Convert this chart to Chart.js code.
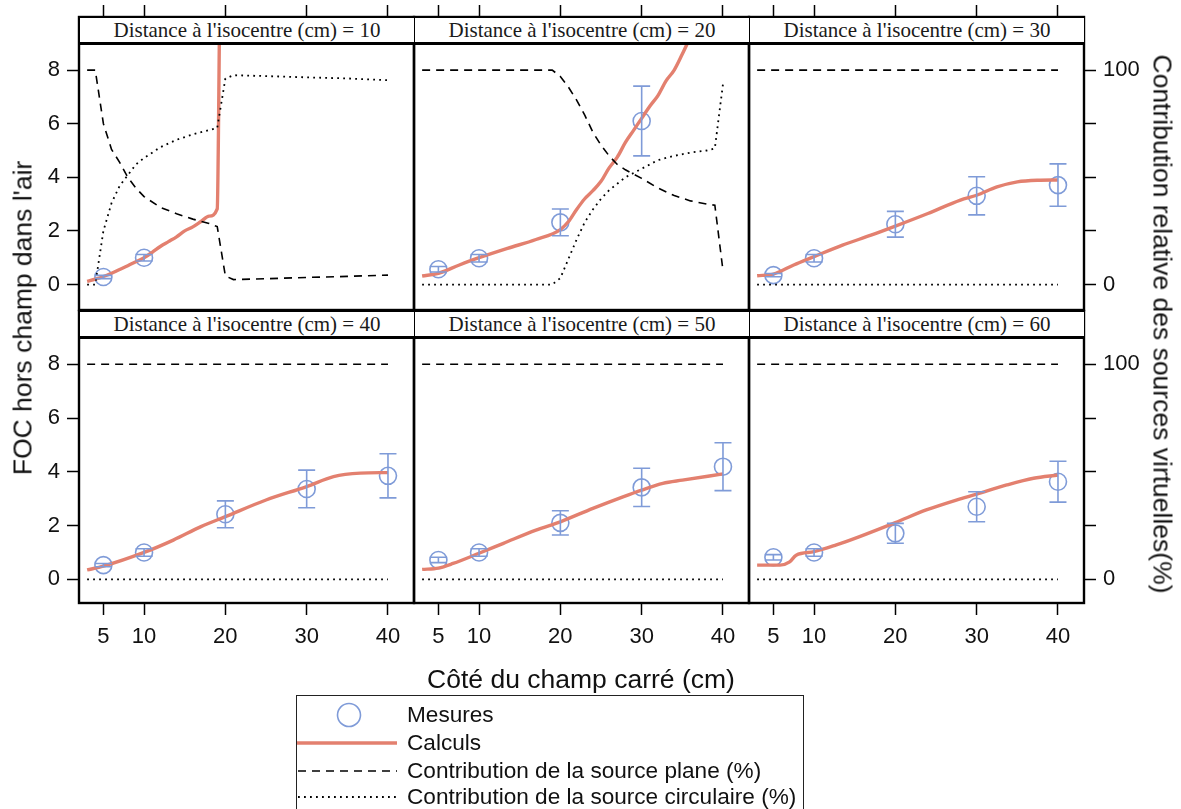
<!DOCTYPE html>
<html>
<head>
<meta charset="utf-8">
<script src="https://cdn.jsdelivr.net/npm/chart.js@4.4.1/dist/chart.umd.min.js"></script>
<style>
  html, body { margin:0; padding:0; background:#fff; }
  #wrap { position:relative; width:1181px; height:809px; overflow:hidden; background:#fff; }
  canvas.panel { position:absolute; left:0; top:0; width:1181px; height:809px; pointer-events:none; }
  .strip { position:absolute; box-sizing:border-box; background:#fff; border:1.5px solid #000; border-bottom:3px solid #000;
           font-family:'Liberation Serif','Times New Roman',serif; font-size:21px; color:#1a1a1a; text-align:center; line-height:24px; z-index:5; white-space:nowrap; }
  .title { position:absolute; font-family:'Liberation Sans',Arial,sans-serif; font-size:26.5px; color:#111; white-space:nowrap; z-index:6; }
  #legend { position:absolute; left:296px; top:695px; width:508px; height:130px; box-sizing:border-box; border:1.5px solid #222; background:#fff; z-index:6; }
  #legend .lab { position:absolute; left:110px; font-family:'Liberation Sans',Arial,sans-serif; font-size:22.6px; color:#111; line-height:26px; white-space:nowrap; }
  #legend svg { position:absolute; left:0; top:0; }
</style>
</head>
<body>
<div id="wrap">
  <canvas class="panel" id="c0" width="1181" height="809"></canvas>
  <canvas class="panel" id="c1" width="1181" height="809"></canvas>
  <canvas class="panel" id="c2" width="1181" height="809"></canvas>
  <canvas class="panel" id="c3" width="1181" height="809"></canvas>
  <canvas class="panel" id="c4" width="1181" height="809"></canvas>
  <canvas class="panel" id="c5" width="1181" height="809"></canvas>
  <div id="strips"></div>
  <div class="title" id="xTitle"></div>
  <div class="title" id="yTitle"></div>
  <div class="title" id="y2Title"></div>
  <div id="legend"></div>
</div>
<script>
// ---------------- DATA ----------------
const distances = [10, 20, 30, 40, 50, 60];
const stripPrefix = "Distance à l'isocentre (cm) = ";
const xTicks = [5, 10, 20, 30, 40];
const yTicks = [0, 2, 4, 6, 8];
const pctTicks = [0, 25, 50, 75, 100];
const pctTickLabels = ['0', '', '', '', '100'];
const xTitleText = 'Côté du champ carré (cm)';
const yTitleText = "FOC hors champ dans l'air";
const y2TitleText = 'Contribution relative des sources virtuelles(%)';
const legendLabels = ['Mesures', 'Calculs', 'Contribution de la source plane (%)', 'Contribution de la source circulaire (%)'];

// Measurements (x, value, half error bar)
const mesX_10 = [5, 10];
const mesY_10 = [0.28, 1.0];
const mesE_10 = [0.06, 0.12];
const mesX_20 = [5, 10, 20, 30];
const mesY_20 = [0.57, 0.98, 2.32, 6.1];
const mesE_20 = [0.1, 0.14, 0.5, 1.3];
const mesX_30 = [5, 10, 20, 30, 40];
const mesY_30 = [0.35, 0.98, 2.25, 3.31, 3.71];
const mesE_30 = [0.06, 0.14, 0.48, 0.71, 0.79];
const mesX_40 = [5, 10, 20, 30, 40];
const mesY_40 = [0.53, 1.0, 2.42, 3.36, 3.85];
const mesE_40 = [0.06, 0.14, 0.5, 0.7, 0.82];
const mesX_50 = [5, 10, 20, 30, 40];
const mesY_50 = [0.72, 1.0, 2.1, 3.42, 4.19];
const mesE_50 = [0.1, 0.14, 0.45, 0.71, 0.89];
const mesX_60 = [5, 10, 20, 30, 40];
const mesY_60 = [0.82, 1.0, 1.71, 2.7, 3.63];
const mesE_60 = [0.1, 0.14, 0.37, 0.56, 0.76];

// Calculations
const calcX_10 = [3, 4, 5, 6, 7, 8, 9, 10, 11, 12, 13, 14, 15, 16, 17, 18, 19, 19.3];
const calcY_10 = [0.12, 0.2, 0.3, 0.42, 0.56, 0.7, 0.85, 1.0, 1.2, 1.42, 1.6, 1.78, 2.0, 2.15, 2.35, 2.55, 2.82, 10.2];
const calcX_20 = [3, 5, 7.5, 10, 13.5, 17, 20, 21, 22, 23, 24, 25, 26, 27, 28, 29, 30, 31, 32, 33, 34, 35, 36, 37, 38];
const calcY_20 = [0.32, 0.42, 0.72, 1.0, 1.35, 1.68, 2.05, 2.35, 2.8, 3.2, 3.5, 3.85, 4.35, 4.75, 5.3, 5.75, 6.2, 6.65, 7.05, 7.6, 8.0, 8.6, 9.25, 9.9, 10.6];
const calcX_30 = [3, 5, 7.5, 10, 13.5, 17, 20, 24, 28, 30, 32.5, 35, 37.5, 40];
const calcY_30 = [0.33, 0.39, 0.73, 1.04, 1.47, 1.84, 2.18, 2.65, 3.15, 3.33, 3.64, 3.83, 3.89, 3.9];
const calcX_40 = [3, 5, 10, 13.6, 17, 20, 25, 30, 33.3, 36.6, 40];
const calcY_40 = [0.35, 0.49, 1.0, 1.46, 1.96, 2.33, 2.95, 3.45, 3.82, 3.95, 3.97];
const calcX_50 = [3, 5, 6.8, 10, 13, 17, 20, 24, 27.7, 30, 32.6, 35, 40];
const calcY_50 = [0.37, 0.42, 0.59, 0.97, 1.34, 1.83, 2.14, 2.64, 3.07, 3.32, 3.57, 3.69, 3.92];
const calcX_60 = [3, 5.8, 7, 7.8, 10, 12.75, 15.6, 20, 23.8, 27.5, 30, 33.7, 37, 40];
const calcY_60 = [0.53, 0.53, 0.65, 0.9, 1.03, 1.28, 1.59, 2.11, 2.58, 2.95, 3.17, 3.51, 3.76, 3.88];

// Source contributions (%)
const srcX_10 = [3, 4, 5, 6, 7, 8, 9, 10, 12, 14, 16, 18, 19, 20, 21, 25, 30, 35, 40];
const plane_10 = [100, 100, 75, 63, 57, 50, 45, 41, 36, 33, 30.5, 28.5, 27, 4, 2.3, 2.7, 3.3, 3.8, 4.4];
const circ_10 = [0, 0, 25, 38, 46, 51, 56, 59, 64, 67.5, 70, 72, 73, 96, 97.6, 97.2, 96.6, 96.1, 95.3];
const srcX_20 = [3, 19, 20, 21, 22, 23, 24, 25, 26, 27, 28, 29, 30, 32, 34, 36, 38, 39, 40];
const plane_20 = [100, 100, 97, 92, 86, 79, 71, 65, 60, 56, 53.5, 51.5, 49.5, 45, 41.5, 39, 37.5, 37, 6.5];
const circ_20 = [0, 0, 3, 12, 21, 29, 35, 40, 44, 47, 50, 52, 54, 58, 60, 61.5, 62.5, 63.5, 93.5];
const srcX_30 = [3, 40];
const plane_30 = [100, 100];
const circ_30 = [0, 0];
const srcX_40 = [3, 40];
const plane_40 = [100, 100];
const circ_40 = [0, 0];
const srcX_50 = [3, 40];
const plane_50 = [100, 100];
const circ_50 = [0, 0];
const srcX_60 = [3, 40];
const plane_60 = [100, 100];
const circ_60 = [0, 0];

// ---------------- LAYOUT / STYLE ----------------
const W = 1181, H = 809;
const colL = [79, 414, 749], colR = [414, 749, 1084];
const rowT = [17, 311], rowB = [310, 603];
const stripH = 27;
const X_MIN = 2.0, X_MAX = 43.2;
const Y_MIN = [-0.95, -0.88], Y_MAX = [9.98, 9.98];
const PCT_PER_UNIT = 12.5;
const WL = 50, WR = 60, HB = 60, HT = 12;
const RED = '#e3806f', BLUE = '#7f9bd8';
const FONT = { family: "'Liberation Sans', Arial, sans-serif", size: 22 };

const panelData = [
  { mx: mesX_10, my: mesY_10, me: mesE_10, cx: calcX_10, cy: calcY_10, sx: srcX_10, sp: plane_10, sc: circ_10 },
  { mx: mesX_20, my: mesY_20, me: mesE_20, cx: calcX_20, cy: calcY_20, sx: srcX_20, sp: plane_20, sc: circ_20 },
  { mx: mesX_30, my: mesY_30, me: mesE_30, cx: calcX_30, cy: calcY_30, sx: srcX_30, sp: plane_30, sc: circ_30 },
  { mx: mesX_40, my: mesY_40, me: mesE_40, cx: calcX_40, cy: calcY_40, sx: srcX_40, sp: plane_40, sc: circ_40 },
  { mx: mesX_50, my: mesY_50, me: mesE_50, cx: calcX_50, cy: calcY_50, sx: srcX_50, sp: plane_50, sc: circ_50 },
  { mx: mesX_60, my: mesY_60, me: mesE_60, cx: calcX_60, cy: calcY_60, sx: srcX_60, sp: plane_60, sc: circ_60 }
];

const pts = (xs, ys) => xs.map((x, k) => ({ x: x, y: ys[k] }));
const zeroPad = s => { s.paddingLeft = 0; s.paddingRight = 0; s.paddingTop = 0; s.paddingBottom = 0; };

const framePlugin = {
  id: 'frame',
  afterDraw(chart) {
    const a = chart.chartArea, c = chart.ctx;
    c.save(); c.lineWidth = 2.4; c.strokeStyle = '#000';
    c.strokeRect(a.left, a.top, a.right - a.left, a.bottom - a.top);
    c.restore();
  }
};
const errorBarPlugin = {
  id: 'errorBars',
  afterDatasetsDraw(chart) {
    const c = chart.ctx, a = chart.chartArea;
    chart.data.datasets.forEach((ds, i) => {
      if (!ds.errors) return;
      const meta = chart.getDatasetMeta(i);
      const ys = chart.scales[meta.yAxisID];
      c.save();
      c.beginPath(); c.rect(a.left, a.top, a.right - a.left, a.bottom - a.top); c.clip();
      c.strokeStyle = ds.borderColor; c.lineWidth = 1.6;
      c.beginPath();
      meta.data.forEach((el, j) => {
        const v = ds.data[j].y, e = ds.errors[j];
        const y1 = ys.getPixelForValue(v + e), y2 = ys.getPixelForValue(v - e), x = el.x;
        c.moveTo(x, y1); c.lineTo(x, y2);
        c.moveTo(x - 8.5, y1); c.lineTo(x + 8.5, y1);
        c.moveTo(x - 8.5, y2); c.lineTo(x + 8.5, y2);
      });
      c.stroke(); c.restore();
    });
  }
};

const gridOpts = { display: true, drawOnChartArea: false, drawTicks: true, tickLength: 12, tickWidth: 1.5, tickColor: '#000', color: '#000' };

distances.forEach((d, i) => {
  const row = Math.floor(i / 3), col = i % 3;
  const p = panelData[i];
  const padding = {
    left: colL[col] - (col === 0 ? WL : 0),
    right: W - colR[col] - (col === 2 ? WR : 0),
    top: rowT[row] - (row === 0 ? HT : 0),
    bottom: H - rowB[row] - (row === 1 ? HB : 0)
  };
  new Chart(document.getElementById('c' + i), {
    type: 'scatter',
    data: {
      datasets: [
        { label: legendLabels[2], data: pts(p.sx, p.sp), yAxisID: 'y2', showLine: true, borderColor: '#000', borderWidth: 1.6,
          borderDash: [8, 6], pointRadius: 0, tension: 0, fill: false },
        { label: legendLabels[3], data: pts(p.sx, p.sc), yAxisID: 'y2', showLine: true, borderColor: '#000', borderWidth: 1.8,
          borderDash: [1.8, 4.2], pointRadius: 0, tension: 0, fill: false },
        { label: legendLabels[1], data: pts(p.cx, p.cy), yAxisID: 'y', showLine: true, borderColor: RED, borderWidth: 3.4,
          pointRadius: 0, tension: 0.3, cubicInterpolationMode: 'monotone', fill: false },
        { label: legendLabels[0], data: pts(p.mx, p.my), errors: p.me, yAxisID: 'y', showLine: false, borderColor: BLUE,
          backgroundColor: 'rgba(0,0,0,0)', pointRadius: 8.5, pointBorderWidth: 1.6, pointStyle: 'circle' }
      ]
    },
    options: {
      responsive: false, animation: false, devicePixelRatio: 1,
      layout: { padding: padding },
      plugins: { legend: { display: false }, tooltip: { enabled: false }, title: { display: false } },
      scales: {
        x: {
          type: 'linear', position: 'bottom', min: X_MIN, max: X_MAX, display: row === 1,
          afterBuildTicks: s => { s.ticks = xTicks.map(v => ({ value: v })); },
          afterFit: row === 1 ? s => { s.height = HB; zeroPad(s); } : undefined,
          ticks: { font: FONT, color: '#111', padding: 9, autoSkip: false, maxRotation: 0, callback: v => String(v) },
          grid: gridOpts, border: { display: false }
        },
        xTop: {
          type: 'linear', position: 'top', min: X_MIN, max: X_MAX, display: row === 0,
          afterBuildTicks: s => { s.ticks = xTicks.map(v => ({ value: v })); },
          afterFit: row === 0 ? s => { s.height = HT; zeroPad(s); } : undefined,
          ticks: { display: false },
          grid: gridOpts, border: { display: false }
        },
        y: {
          type: 'linear', position: 'left', min: Y_MIN[row], max: Y_MAX[row], display: col === 0,
          afterBuildTicks: s => { s.ticks = yTicks.map(v => ({ value: v })); },
          afterFit: col === 0 ? s => { s.width = WL; zeroPad(s); } : undefined,
          ticks: { font: FONT, color: '#111', padding: 7, autoSkip: false, callback: v => String(v) },
          grid: gridOpts, border: { display: false }
        },
        y2: {
          type: 'linear', position: 'right', min: Y_MIN[row] * PCT_PER_UNIT, max: Y_MAX[row] * PCT_PER_UNIT, display: col === 2,
          afterBuildTicks: s => { s.ticks = pctTicks.map(v => ({ value: v })); },
          afterFit: col === 2 ? s => { s.width = WR; zeroPad(s); } : undefined,
          ticks: { font: FONT, color: '#111', padding: 7, autoSkip: false, callback: v => pctTickLabels[pctTicks.indexOf(v)] },
          grid: gridOpts, border: { display: false }
        }
      }
    },
    plugins: [errorBarPlugin, framePlugin]
  });

  const s = document.createElement('div');
  s.className = 'strip';
  s.style.left = colL[col] + 'px';
  s.style.top = rowT[row] + 'px';
  s.style.width = (colR[col] - colL[col] + 1) + 'px';
  s.style.height = (stripH + 1) + 'px';
  s.textContent = stripPrefix + d;
  document.getElementById('strips').appendChild(s);
});

// Titles
const xt = document.getElementById('xTitle');
xt.textContent = xTitleText;
xt.style.left = '581px'; xt.style.top = '679px'; xt.style.transform = 'translate(-50%,-50%)';
const yt = document.getElementById('yTitle');
yt.textContent = yTitleText;
yt.style.left = '23px'; yt.style.top = '318px'; yt.style.transform = 'translate(-50%,-50%) rotate(-90deg)';
const y2t = document.getElementById('y2Title');
y2t.textContent = y2TitleText;
y2t.style.left = '1162px'; y2t.style.top = '324px'; y2t.style.transform = 'translate(-50%,-50%) rotate(90deg)';

// Legend
const lg = document.getElementById('legend');
const rowsY = [19, 47, 75, 101];
const svgNS = 'http://www.w3.org/2000/svg';
const svg = document.createElementNS(svgNS, 'svg');
svg.setAttribute('width', '110'); svg.setAttribute('height', '120');
const mk = (tag, attrs) => { const e = document.createElementNS(svgNS, tag); for (const k in attrs) e.setAttribute(k, attrs[k]); svg.appendChild(e); };
mk('circle', { cx: 52, cy: rowsY[0], r: 11.5, fill: 'none', stroke: BLUE, 'stroke-width': 1.6 });
mk('line', { x1: 0, y1: rowsY[1], x2: 100, y2: rowsY[1], stroke: RED, 'stroke-width': 3.4 });
mk('line', { x1: 1, y1: rowsY[2], x2: 100, y2: rowsY[2], stroke: '#000', 'stroke-width': 1.6, 'stroke-dasharray': '8 6' });
mk('line', { x1: 1, y1: rowsY[3], x2: 100, y2: rowsY[3], stroke: '#000', 'stroke-width': 1.8, 'stroke-dasharray': '1.8 4.2' });
lg.appendChild(svg);
legendLabels.forEach((t, k) => {
  const l = document.createElement('div');
  l.className = 'lab';
  l.style.top = (rowsY[k] - 13) + 'px';
  l.textContent = t;
  lg.appendChild(l);
});
</script>
</body>
</html>
